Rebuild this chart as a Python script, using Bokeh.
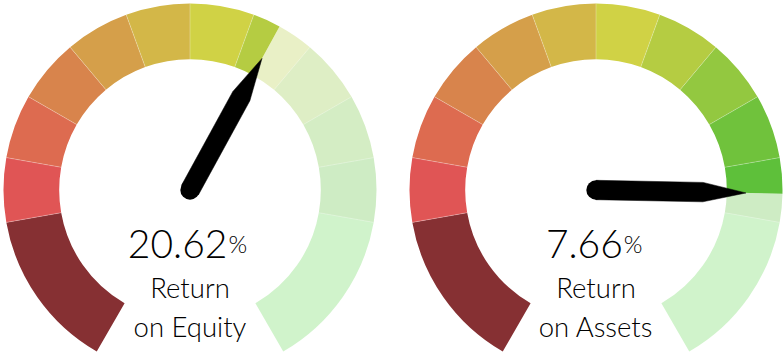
import math
from bokeh.plotting import figure
from bokeh.models import Range1d
from bokeh.core.properties import value
from bokeh.embed import file_html
from bokeh.resources import INLINE

# ---- data ----
gauge_labels_line1 = ["Return", "Return"]
gauge_labels_line2 = ["on Equity", "on Assets"]
gauge_values = [20.62, 7.66]
scale_min = [0.0, 0.0]
scale_max = [34.62, 9.53]
band_weights = [2.5, 1, 1, 1, 1, 1, 1, 1, 1, 1, 1, 2.5]
band_colors = ["#863033", "#e05555", "#dd6b50", "#d8844c", "#d59f4a", "#d3b748",
               "#d0d245", "#b5cc42", "#93c840", "#70c23c", "#5ec03a", "#62d653"]

# ---- layout / style ----
W, H = 784, 354
centers = [(189.5, 164.5), (595.5, 164.5)]
R_OUT, R_IN = 186.5, 130.8
START_DEG, SPAN_DEG = 240.0, 300.0
LIGHT_ALPHA = 0.3
FONT = "Lato Light, Lato"

p = figure(width=W, height=H, x_range=Range1d(0, W), y_range=Range1d(0, H),
           output_backend="svg", toolbar_location=None, min_border=0)
p.axis.visible = False
p.grid.visible = False
p.outline_line_color = None
p.background_fill_color = "white"
p.border_fill_color = "white"

total_w = sum(band_weights)

def val_to_deg(v, vmin, vmax):
    f = (v - vmin) / (vmax - vmin)
    f = max(0.0, min(1.0, f))
    return START_DEG - f * SPAN_DEG

for gi, (cx, cy) in enumerate(centers):
    val_deg = val_to_deg(gauge_values[gi], scale_min[gi], scale_max[gi])
    acc = 0.0
    for bi, w in enumerate(band_weights):
        a0 = START_DEG - acc / total_w * SPAN_DEG
        a1 = START_DEG - (acc + w) / total_w * SPAN_DEG
        acc += w
        col = band_colors[bi]
        pieces = []
        if val_deg <= a1:
            pieces.append((a1, a0, 1.0))
        elif val_deg >= a0:
            pieces.append((a1, a0, LIGHT_ALPHA))
        else:
            pieces.append((val_deg, a0, 1.0))
            pieces.append((a1, val_deg, LIGHT_ALPHA))
        for lo, hi, al in pieces:
            p.annular_wedge(x=[cx], y=[cy], inner_radius=R_IN, outer_radius=R_OUT,
                            start_angle=math.radians(lo), end_angle=math.radians(hi),
                            fill_color=col, fill_alpha=al, line_color=None)
    # separators
    acc = 0.0
    for bi, w in enumerate(band_weights[:-1]):
        acc += w
        ang = math.radians(START_DEG - acc / total_w * SPAN_DEG)
        p.segment(x0=[cx + R_IN * math.cos(ang)], y0=[cy + R_IN * math.sin(ang)],
                  x1=[cx + R_OUT * math.cos(ang)], y1=[cy + R_OUT * math.sin(ang)],
                  line_color="white", line_alpha=0.35, line_width=0.8)

    # needle
    th = math.radians(val_deg)
    ux, uy = math.cos(th), math.sin(th)
    vx, vy = -uy, ux
    hw, r_sh, r_tip = 9.7, 107.0, 150.0
    xs = [cx + vx * hw, cx + ux * r_sh + vx * hw, cx + ux * r_tip,
          cx + ux * r_sh - vx * hw, cx - vx * hw]
    ys = [cy + vy * hw, cy + uy * r_sh + vy * hw, cy + uy * r_tip,
          cy + uy * r_sh - vy * hw, cy - vy * hw]
    p.patch(xs, ys, fill_color="black", line_color="black", line_width=0.5)
    p.circle(x=[cx], y=[cy], radius=hw, fill_color="black", line_color=None)

    # value text
    num = f"{gauge_values[gi]:.2f}"
    num_size, pct_size, lab_size = 39, 24, 27.5
    num_w = sum((0.25 if ch == "." else 0.54) * num_size for ch in num)
    pct_w = 0.8 * pct_size
    left = cx - (num_w + pct_w) / 2
    p.text(x=[left + num_w], y=[111], text=[num], text_font=value(FONT),
           text_font_size=f"{num_size}px", text_align="right",
           text_baseline="alphabetic", text_color="black")
    p.text(x=[left + num_w + 1], y=[111], text=["%"], text_font=value(FONT),
           text_font_size=f"{pct_size}px", text_align="left",
           text_baseline="alphabetic", text_color="black")
    p.text(x=[cx], y=[67], text=[gauge_labels_line1[gi]], text_font=value(FONT),
           text_font_size=f"{lab_size}px", text_align="center",
           text_baseline="alphabetic", text_color="black")
    p.text(x=[cx], y=[28.5], text=[gauge_labels_line2[gi]], text_font=value(FONT),
           text_font_size=f"{lab_size}px", text_align="center",
           text_baseline="alphabetic", text_color="black")

open("out.html", "w").write(file_html(p, INLINE))
